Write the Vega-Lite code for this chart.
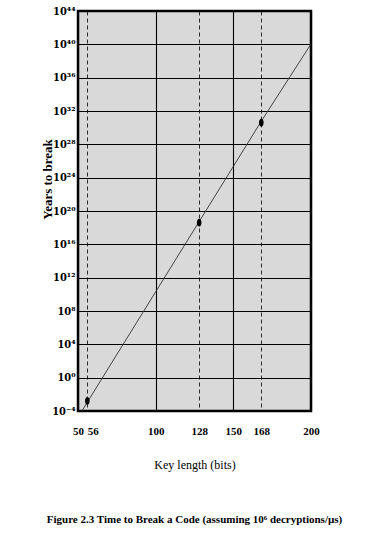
{
  "$schema": "https://vega.github.io/schema/vega-lite/v6.json",
  "width": 233,
  "height": 400,
  "autosize": {"type": "none"},
  "padding": {"left": 78, "top": 11, "right": 65, "bottom": 122},
  "background": "white",
  "datasets": {
    "curve": [
      {"key": 52.5, "years": 1e-4},
      {"key": 56, "years": 1.14e-3},
      {"key": 128, "years": 5.4e18},
      {"key": 168, "years": 5.9e30},
      {"key": 200, "years": 1.1e40}
    ],
    "marked": [
      {"key": 56, "years": 1.6e-3},
      {"key": 128, "years": 4.0e18},
      {"key": 168, "years": 4.0e30}
    ]
  },
  "config": {
    "view": {"fill": "#d9d9d9", "stroke": "black", "strokeWidth": 2.5},
    "font": "Liberation Serif"
  },
  "title": {
    "text": "Figure 2.3  Time to Break a Code (assuming  10⁶ decryptions/µs)",
    "orient": "bottom",
    "anchor": "middle",
    "font": "Liberation Serif",
    "fontSize": 11,
    "fontWeight": "bold",
    "color": "black",
    "offset": 44
  },
  "encoding": {
    "x": {
      "field": "key",
      "type": "quantitative",
      "scale": {"domain": [50, 200], "nice": false, "zero": false},
      "axis": {
        "title": "Key length (bits)",
        "titleFont": "Liberation Serif",
        "titleFontSize": 12,
        "titleFontWeight": "normal",
        "titleColor": "black",
        "titlePadding": 23,
        "values": [50, 56, 100, 128, 150, 168, 200],
        "labelFont": "Liberation Serif",
        "labelFontSize": 11,
        "labelFontWeight": "bold",
        "labelColor": "black",
        "labelPadding": 14,
        "labelOverlap": false,
        "labelFlush": false,
        "labelAlign": {"condition": {"test": "datum.value == 56", "value": "left"}, "value": "center"},
        "ticks": false,
        "domain": false,
        "grid": true,
        "gridColor": "black",
        "gridOpacity": 1,
        "gridWidth": {"condition": {"test": "datum.value == 56 || datum.value == 128 || datum.value == 168", "value": 0.8}, "value": 1.1},
        "gridDash": {"condition": {"test": "datum.value == 56 || datum.value == 128 || datum.value == 168", "value": [4, 3]}, "value": []}
      }
    },
    "y": {
      "field": "years",
      "type": "quantitative",
      "scale": {"type": "log", "domain": [1e-4, 1e44], "nice": false},
      "axis": {
        "title": "Years to break",
        "titleFont": "Liberation Serif",
        "titleFontSize": 13,
        "titleFontWeight": "bold",
        "titleColor": "black",
        "titleX": -31,
        "titleY": 168,
        "titleAlign": "center",
        "titleBaseline": "middle",
        "values": [1e-4, 1, 1e4, 1e8, 1e12, 1e16, 1e20, 1e24, 1e28, 1e32, 1e36, 1e40, 1e44],
        "labelExpr": "'10' + (datum.value < 1 ? '⁻' : '') + (abs(round(log(datum.value) / LN10)) >= 10 ? ['⁰','¹','²','³','⁴','⁵','⁶','⁷','⁸','⁹'][floor(abs(round(log(datum.value) / LN10)) / 10)] : '') + ['⁰','¹','²','³','⁴','⁵','⁶','⁷','⁸','⁹'][abs(round(log(datum.value) / LN10)) % 10]",
        "labelFont": "DejaVu Serif Condensed",
        "labelFontSize": 11,
        "labelFontWeight": "bold",
        "labelColor": "black",
        "labelPadding": 3,
        "labelOverlap": false,
        "labelFlush": false,
        "ticks": false,
        "domain": false,
        "grid": true,
        "gridColor": "black",
        "gridOpacity": 1,
        "gridWidth": 1.1
      }
    }
  },
  "layer": [
    {
      "data": {"name": "curve"},
      "mark": {"type": "line", "color": "#333333", "strokeWidth": 0.9, "clip": true}
    },
    {
      "data": {"name": "marked"},
      "mark": {
        "type": "point",
        "filled": true,
        "color": "black",
        "opacity": 1,
        "size": 60,
        "shape": "M0,-1A0.6,1 0 1,1 0,1A0.6,1 0 1,1 0,-1Z"
      }
    }
  ]
}
